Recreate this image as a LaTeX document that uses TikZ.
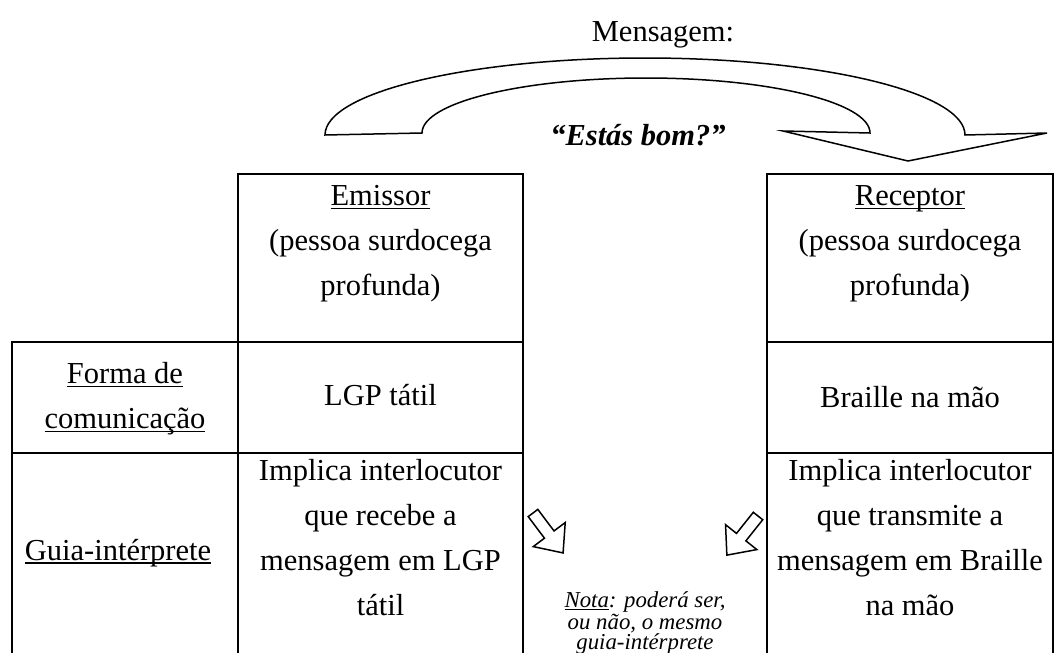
\documentclass[tikz,border=0pt]{standalone}
\usepackage{fontspec}
\setmainfont{Liberation Serif}
% underline drawn close to the baseline
\newcommand\ulw[1]{\leavevmode\setbox0=\hbox{#1}\rlap{\rule[-1.7pt]{\wd0}{0.8pt}}\box0}
\newcommand\ulsmall[1]{\leavevmode\setbox0=\hbox{#1}\rlap{\rule[-1.3pt]{\wd0}{0.6pt}}\box0}
\begin{document}
\begin{tikzpicture}[x=0.5pt,y=0.5pt,
  grid/.style={line width=1pt},
  outline/.style={line width=0.75pt, line join=miter},
  celltext/.style={align=center, inner sep=0pt, font=\fontsize{15.25pt}{22.5pt}\selectfont},
  quotetext/.style={inner sep=0pt, font=\fontsize{15.25pt}{22.5pt}\selectfont\bfseries\itshape},
  notetext/.style={align=center, inner sep=0pt, font=\fontsize{11.4pt}{10pt}\selectfont\itshape}
]
\useasboundingbox (0,0) rectangle (1055,-653);

% curved message arrow
\draw[outline] (325,-135) arc[start angle=180, end angle=0, x radius=160pt, y radius=38.5pt]
  -- (1047,-133) -- (908,-161) -- (783,-131) -- (870,-133)
  arc[start angle=0, end angle=180, x radius=112pt, y radius=27.5pt] -- cycle;

\node[celltext] (msg) at (663,-35) {Mensagem:};
\node[quotetext] (quote) at (638,-135) {“Estás bom?”};

% table: emitter side
\draw[grid] (238,-655) -- (238,-174) -- (523,-174) -- (523,-655);
\draw[grid] (12,-655) -- (12,-342) -- (523,-342);
\draw[grid] (12,-453) -- (523,-453);

% table: receiver side
\draw[grid] (767,-655) -- (767,-174) -- (1053,-174) -- (1053,-655);
\draw[grid] (767,-342) -- (1053,-342);
\draw[grid] (767,-453) -- (1053,-453);

% cell texts
\node[celltext] (emissor) at (380.5,-244) {\ulw{Emissor}\\(pessoa surdocega\\profunda)};
\node[celltext] (receptor) at (910,-244) {\ulw{Receptor}\\(pessoa surdocega\\profunda)};
\node[celltext] (forma) at (125,-399) {\ulw{Forma de}\\\ulw{comunicação}};
\node[celltext] (lgp) at (380.5,-395) {LGP tátil};
\node[celltext] (braille) at (910,-397) {Braille na mão};
\node[celltext] (guia) at (118,-553) {\ulw{Guia-intérprete}};
\node[celltext] (guiaE) at (380.5,-538) {Implica interlocutor\\que recebe a\\mensagem em LGP\\tátil};
\node[celltext] (guiaR) at (910,-538) {Implica interlocutor\\que transmite a\\mensagem em Braille\\na mão};

\node[notetext] (nota) at (645,-623) {\ulsmall{Nota}: poderá ser,\\ou não, o mesmo\\guia-intérprete};

% small block arrows pointing at the note
\begin{scope}[shift={(533,-513)}, rotate=-53]
  \draw[outline] (0,6) -- (27,6) -- (27,20) -- (50,0) -- (27,-20) -- (27,-6) -- (0,-6) -- cycle;
\end{scope}
\begin{scope}[shift={(758,-516)}, rotate=-128.5]
  \draw[outline] (0,6) -- (27,6) -- (27,20) -- (50,0) -- (27,-20) -- (27,-6) -- (0,-6) -- cycle;
\end{scope}
\end{tikzpicture}
\end{document}
